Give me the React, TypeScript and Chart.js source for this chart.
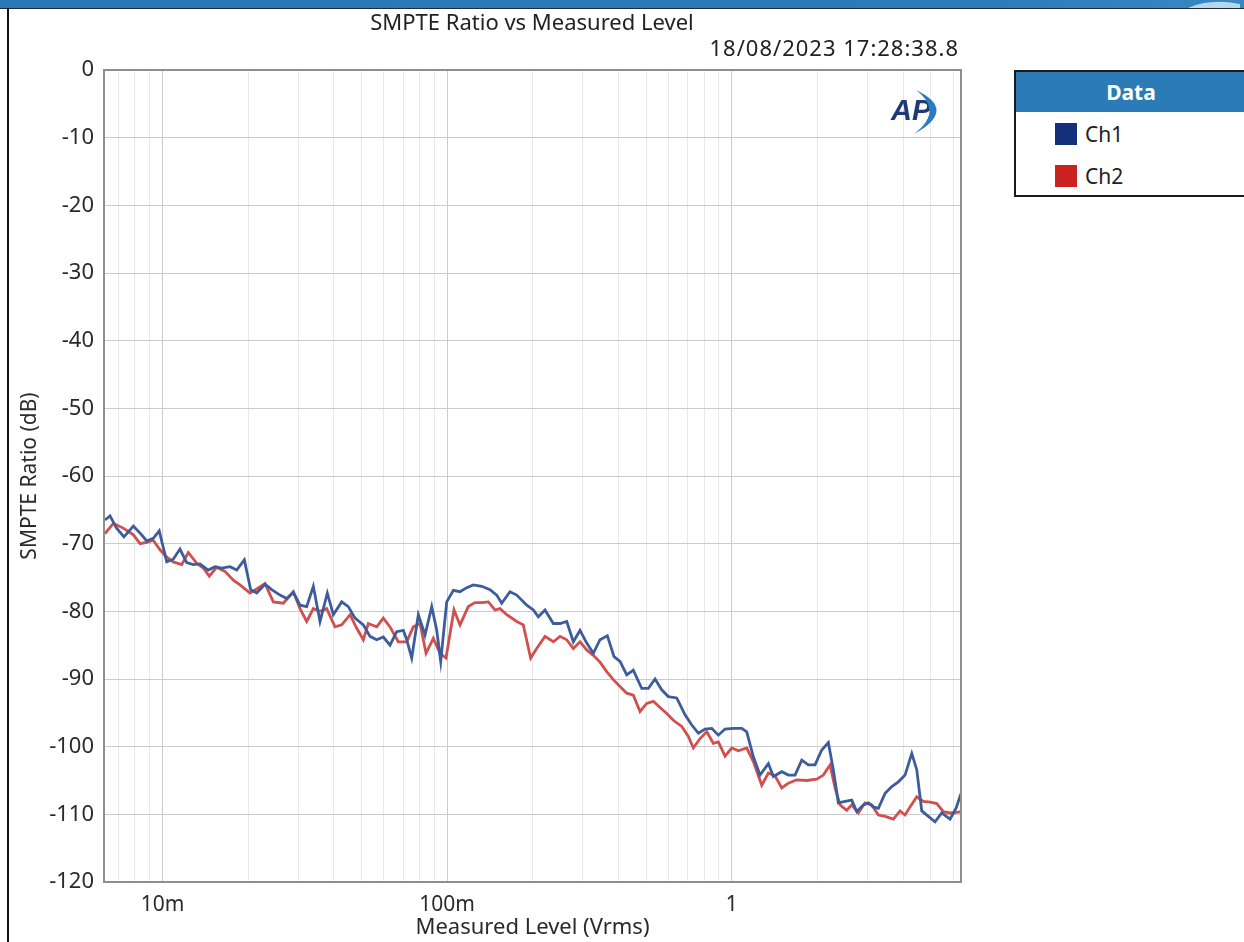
import React, { useEffect, useRef } from "react";
import { Chart, registerables } from "chart.js";

Chart.register(...registerables);

const chartTitle = "SMPTE Ratio vs Measured Level";
const timestamp = "18/08/2023 17:28:38.8";
const xAxisTitle = "Measured Level (Vrms)";
const yAxisTitle = "SMPTE Ratio (dB)";
const seriesNames = ["Ch1", "Ch2"];

const ch1Level = [
  0.00628, 0.00654, 0.0069, 0.00732, 0.0079, 0.00845, 0.0088, 0.00928, 0.00974, 0.01035,
  0.01091, 0.01152, 0.01216, 0.01283, 0.01354, 0.01448, 0.01529, 0.01614, 0.01727, 0.01823,
  0.01939, 0.02041, 0.02143, 0.02292, 0.02419, 0.02588, 0.02732, 0.02882, 0.03042, 0.03211,
  0.03388, 0.03576, 0.03794, 0.03982, 0.04263, 0.04496, 0.04747, 0.05077, 0.0536, 0.05656,
  0.05967, 0.063, 0.06651, 0.07018, 0.07211, 0.07509, 0.07923, 0.08363, 0.0883, 0.09194,
  0.09495, 0.09968, 0.1052, 0.111, 0.1172, 0.1236, 0.1323, 0.1415, 0.1494, 0.1555,
  0.1663, 0.1756, 0.1905, 0.2009, 0.2091, 0.2208, 0.2362, 0.2493, 0.2632, 0.2776,
  0.2931, 0.3094, 0.3264, 0.3445, 0.3655, 0.3858, 0.4051, 0.4277, 0.451, 0.4829,
  0.5093, 0.5377, 0.5675, 0.5987, 0.6408, 0.6854, 0.7237, 0.7634, 0.8059, 0.8506,
  0.8972, 0.9473, 1.013, 1.084, 1.129, 1.191, 1.257, 1.345, 1.4, 1.499,
  1.581, 1.669, 1.762, 1.858, 1.962, 2.071, 2.185, 2.275, 2.369, 2.501,
  2.64, 2.749, 2.9, 3.02, 3.145, 3.275, 3.458, 3.65, 3.849, 4.064,
  4.291, 4.467, 4.652, 4.907, 5.18, 5.469, 5.848, 6.139, 6.393,
];

const ch1Ratio = [
  -66.5, -65.9, -67.7, -69.0, -67.4, -68.7, -69.6, -69.2, -68.1, -72.7,
  -72.3, -70.8, -72.8, -73.1, -73.0, -73.9, -73.4, -73.6, -73.4, -73.9,
  -72.4, -76.8, -77.3, -76.0, -76.8, -77.6, -78.1, -77.2, -79.1, -79.3,
  -76.3, -81.5, -77.3, -80.5, -78.6, -79.3, -81.0, -82.0, -83.7, -84.2,
  -83.8, -85.0, -83.0, -82.8, -84.2, -86.9, -80.5, -83.5, -79.3, -82.8,
  -87.4, -78.6, -76.9, -77.1, -76.5, -76.1, -76.3, -76.8, -77.6, -78.8,
  -77.1, -77.6, -79.1, -79.8, -80.8, -79.8, -81.8, -81.8, -81.5, -84.5,
  -82.8, -84.7, -86.2, -84.2, -83.6, -86.7, -87.4, -89.4, -88.7, -91.4,
  -91.4, -90.0, -91.6, -92.6, -92.8, -95.3, -96.8, -98.0, -97.4, -97.3,
  -98.3, -97.4, -97.3, -97.3, -97.8, -101.5, -104.2, -102.5, -104.4, -103.7,
  -104.2, -104.2, -102.0, -102.7, -102.7, -100.5, -99.4, -103.4, -108.3, -108.1,
  -107.9, -109.6, -108.6, -108.3, -108.9, -109.1, -106.9, -105.9, -105.2, -104.2,
  -101.0, -103.4, -109.5, -110.3, -111.1, -109.8, -110.7, -109.1, -106.9,
];

const ch2Level = [
  0.00628, 0.00672, 0.00728, 0.0079, 0.00834, 0.0088, 0.00928, 0.0098, 0.01035, 0.01091,
  0.01168, 0.01232, 0.01319, 0.01391, 0.0146, 0.0155, 0.01658, 0.01773, 0.01872, 0.0203,
  0.02143, 0.02292, 0.02451, 0.02658, 0.02882, 0.03042, 0.03211, 0.03388, 0.03576, 0.03775,
  0.04037, 0.04263, 0.04559, 0.04813, 0.05077, 0.05286, 0.05656, 0.05967, 0.063, 0.06738,
  0.07211, 0.07606, 0.08033, 0.08433, 0.08945, 0.09441, 0.09911, 0.1057, 0.111, 0.1187,
  0.1253, 0.1323, 0.1396, 0.1473, 0.1534, 0.162, 0.1756, 0.1852, 0.1966, 0.2064,
  0.2208, 0.2362, 0.2493, 0.2632, 0.2776, 0.2931, 0.3094, 0.3264, 0.3445, 0.3637,
  0.3837, 0.4051, 0.4277, 0.451, 0.4762, 0.5027, 0.5304, 0.5598, 0.591, 0.6234,
  0.6673, 0.704, 0.7331, 0.774, 0.817, 0.8617, 0.8972, 0.9473, 1.0, 1.055,
  1.129, 1.191, 1.275, 1.345, 1.419, 1.499, 1.581, 1.692, 1.834, 1.989,
  2.098, 2.215, 2.307, 2.402, 2.536, 2.64, 2.785, 2.941, 3.104, 3.275,
  3.458, 3.697, 3.903, 4.064, 4.232, 4.467, 4.713, 4.975, 5.252, 5.54,
  5.848, 6.174, 6.393,
];

const ch2Ratio = [
  -68.5, -67.0, -67.7, -68.7, -70.0, -69.8, -69.5, -70.9, -72.0, -72.7,
  -73.1, -71.3, -72.9, -73.6, -74.8, -73.5, -74.1, -75.4, -76.1, -77.3,
  -76.7, -75.9, -78.6, -78.8, -77.1, -79.6, -81.5, -79.6, -80.0, -79.6,
  -82.3, -82.0, -80.5, -82.5, -84.2, -81.8, -82.3, -81.0, -82.3, -84.5,
  -84.5, -82.3, -81.8, -86.2, -84.0, -86.2, -86.9, -79.8, -82.0, -79.3,
  -78.7, -78.7, -78.6, -79.8, -79.6, -80.5, -81.5, -82.0, -86.9, -85.5,
  -83.7, -84.5, -83.7, -84.2, -85.5, -84.5, -85.7, -86.5, -87.5, -88.9,
  -90.1, -91.1, -92.1, -92.4, -94.8, -93.6, -93.3, -94.2, -95.1, -96.1,
  -97.0, -98.5, -100.2, -98.8, -97.8, -99.5, -99.3, -101.4, -100.2, -100.6,
  -100.2, -102.2, -105.7, -103.9, -104.3, -106.1, -105.4, -104.9, -105.0, -104.8,
  -104.2, -102.7, -106.1, -108.6, -109.4, -108.6, -109.8, -108.3, -108.6, -110.1,
  -110.3, -110.7, -109.5, -110.1, -108.9, -107.4, -108.1, -108.2, -108.4, -109.6,
  -109.8, -109.7, -109.6,
];

const xMin = 0.00623;
const xMax = 6.39;
const xGridTicks = [
  0.007, 0.008, 0.009, 0.01, 0.02, 0.03, 0.04, 0.05, 0.06, 0.07, 0.08, 0.09,
  0.1, 0.2, 0.3, 0.4, 0.5, 0.6, 0.7, 0.8, 0.9, 1, 2, 3, 4, 5, 6,
];
const xMajorTicks = [0.01, 0.1, 1];
const xMajorLabels = ["10m", "100m", "1"];

const yMin = -120;
const yMax = 0;
const yStep = 10;

const FONT = "'Noto Sans', 'Open Sans', sans-serif";
const isMajor = (v: number) => xMajorTicks.findIndex((m) => Math.abs(v - m) / m < 1e-6);

export default function App() {
  const canvasRef = useRef<HTMLCanvasElement | null>(null);

  useEffect(() => {
    if (!canvasRef.current) return;
    const framePlugin = {
      id: "frameAndTitles",
      afterDatasetsDraw(chart: any) {
        const { ctx, chartArea } = chart;
        ctx.save();
        ctx.strokeStyle = "#8e8e8e";
        ctx.lineWidth = 2;
        ctx.strokeRect(chartArea.left, chartArea.top, chartArea.right - chartArea.left, chartArea.bottom - chartArea.top);
        ctx.restore();
      },
      afterDraw(chart: any) {
        const { ctx } = chart;
        ctx.save();
        ctx.fillStyle = "#222222";
        ctx.font = `22px ${FONT}`;
        ctx.textBaseline = "middle";
        ctx.textAlign = "center";
        ctx.fillText(chartTitle, 532, 24);
        ctx.textAlign = "right";
        try {
          (ctx as any).letterSpacing = "1px";
        } catch (e) {}
        ctx.fillText(timestamp, 959, 50);
        ctx.restore();
      },
    };

    const chart = new Chart(canvasRef.current, {
      type: "line",
      data: {
        datasets: [
          {
            label: seriesNames[0],
            data: ch1Level.map((x, i) => ({ x, y: ch1Ratio[i] })),
            borderColor: "#3d5c9b",
            borderWidth: 2.8,
            pointRadius: 0,
            tension: 0,
          },
          {
            label: seriesNames[1],
            data: ch2Level.map((x, i) => ({ x, y: ch2Ratio[i] })),
            borderColor: "#d14f4f",
            borderWidth: 2.8,
            pointRadius: 0,
            tension: 0,
          },
        ],
      },
      options: {
        animation: false,
        responsive: false,
        maintainAspectRatio: false,
        parsing: false,
        layout: { padding: { top: 70, right: 39, left: 0, bottom: 0 } },
        plugins: {
          legend: { display: false },
          tooltip: { enabled: false },
          title: { display: false },
        },
        scales: {
          x: {
            type: "logarithmic",
            min: xMin,
            max: xMax,
            afterBuildTicks: (scale: any) => {
              scale.ticks = xGridTicks.map((v) => ({ value: v }));
            },
            afterFit: (scale: any) => {
              scale.height = 60;
            },
            ticks: {
              autoSkip: false,
              maxRotation: 0,
              padding: 10,
              color: "#2a2a2a",
              font: { family: FONT, size: 21 },
              callback: (value: any) => {
                const i = isMajor(Number(value));
                return i >= 0 ? xMajorLabels[i] : "";
              },
            },
            grid: {
              drawTicks: false,
              color: (ctx: any) => (ctx.tick && isMajor(ctx.tick.value) >= 0 ? "#cbcbcb" : "#e7e7e7"),
              lineWidth: 1,
            },
            border: { display: false },
            title: {
              display: true,
              text: xAxisTitle,
              color: "#2a2a2a",
              font: { family: FONT, size: 22 },
              padding: { top: 0, bottom: 1 },
            },
          },
          y: {
            type: "linear",
            min: yMin,
            max: yMax,
            afterFit: (scale: any) => {
              scale.width = 104;
            },
            ticks: {
              stepSize: yStep,
              padding: 10,
              color: "#2a2a2a",
              font: { family: FONT, size: 22 },
            },
            grid: { drawTicks: false, color: "#cbcbcb", lineWidth: 1 },
            border: { display: false },
            title: {
              display: true,
              text: yAxisTitle,
              color: "#2a2a2a",
              font: { family: FONT, size: 21 },
              padding: { top: 17, bottom: 0 },
            },
          },
        },
      },
      plugins: [framePlugin],
    } as any);
    return () => chart.destroy();
  }, []);

  return (
    <div style={{ position: "absolute", left: 0, top: 0, width: 1244, height: 942, background: "#ffffff", overflow: "hidden", fontFamily: FONT }}>
      <div style={{ position: "absolute", left: 0, top: 0, width: 1244, height: 8, background: "linear-gradient(90deg, #2a78b3 0%, #2b7cb8 80%, #3a88c2 100%)" }} />
      <svg style={{ position: "absolute", left: 1180, top: 0 }} width={64} height={8}>
        <path d="M8 8 Q30 -2 60 4 L60 8 Z" fill="#d7e8f5" opacity={0.8} />
      </svg>
      <div style={{ position: "absolute", left: 0, top: 8, width: 1244, height: 1, background: "#1e2a36" }} />
      <div style={{ position: "absolute", left: 7, top: 8, width: 2, height: 934, background: "#111111" }} />
      <canvas ref={canvasRef} width={1000} height={942} style={{ position: "absolute", left: 0, top: 0, width: 1000, height: 942 }} />
      <svg style={{ position: "absolute", left: 880, top: 84 }} width={74} height={56}>
        <text x={11} y={36} fontFamily="'Liberation Sans', Arial, sans-serif" fontWeight="bold" fontStyle="italic" fontSize={29} fill="#1c3a78">AP</text>
        <path d="M36 6 Q78 26 34 50 Q64 27 36 6 Z" fill="#2a7cc0" />
      </svg>
      <div style={{ position: "absolute", left: 1014, top: 70, width: 240, height: 127, border: "2px solid #1a1a1a", boxSizing: "border-box", background: "#fff" }}>
        <div style={{ height: 40, background: "#2b7bb6", color: "#ffffff", fontWeight: "bold", fontSize: 21, lineHeight: "40px", textAlign: "center", width: 230 }}>Data</div>
        {seriesNames.map((n, i) => (
          <div key={n} style={{ position: "absolute", left: 39, top: 50 + i * 42, height: 24, display: "flex", alignItems: "center" }}>
            <div style={{ width: 22, height: 22, background: i === 0 ? "#14307a" : "#c9221f", marginRight: 8 }} />
            <span style={{ fontSize: 21, color: "#222" }}>{n}</span>
          </div>
        ))}
      </div>
    </div>
  );
}
